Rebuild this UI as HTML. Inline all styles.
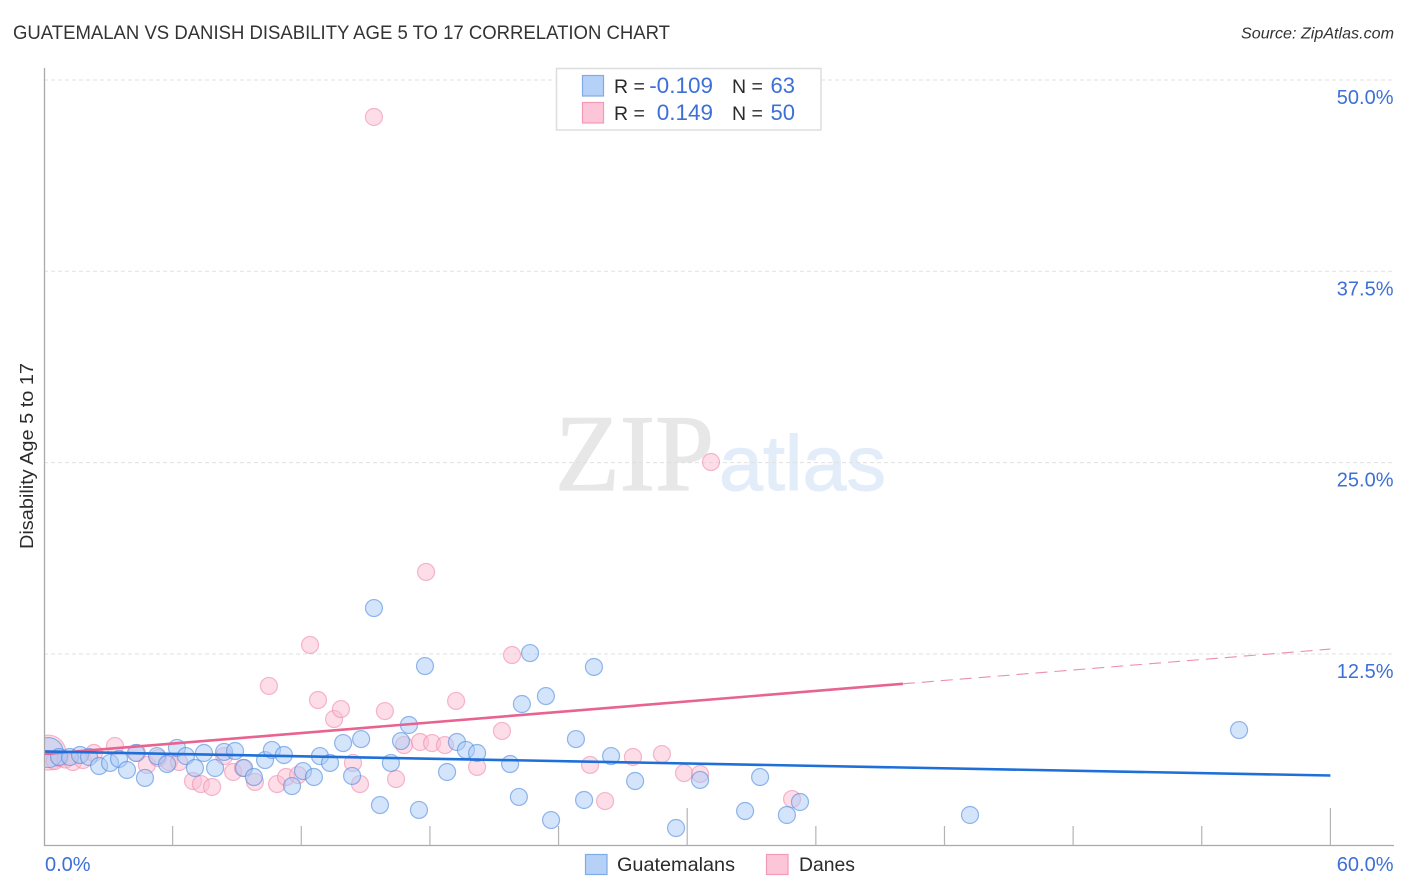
<!DOCTYPE html>
<html lang="en">
<head>
<meta charset="utf-8">
<title>Guatemalan vs Danish Disability Age 5 to 17 Correlation Chart</title>
<style>
html,body{margin:0;padding:0;background:#fff;}
body{width:1406px;height:892px;overflow:hidden;}
svg{display:block;font-family:"Liberation Sans",sans-serif;}
</style>
</head>
<body>
<svg id="chart" xmlns="http://www.w3.org/2000/svg" width="1406" height="892" viewBox="0 0 1406 892">
  <defs>
    <clipPath id="plot-clip"><rect x="44" y="60" width="1350" height="785.5"/></clipPath>
  </defs>
  <rect x="0" y="0" width="1406" height="892" fill="#ffffff"/>
  <text x="13" y="39" font-size="19" fill="#333333" textLength="657" lengthAdjust="spacingAndGlyphs">GUATEMALAN VS DANISH DISABILITY AGE 5 TO 17 CORRELATION CHART</text>
  <text x="1394" y="38.5" font-size="16" font-style="italic" fill="#333333" text-anchor="end" textLength="153" lengthAdjust="spacingAndGlyphs">Source: ZipAtlas.com</text>
  <text x="555" y="490" font-family="'Liberation Serif',serif" font-size="109" fill="#e7e7e7" stroke="#e7e7e7" stroke-width="1.2" textLength="159" lengthAdjust="spacingAndGlyphs">ZIP</text>
  <text x="719" y="490" font-size="78" fill="#e3edfa" stroke="#e3edfa" stroke-width="1" textLength="167" lengthAdjust="spacingAndGlyphs">atlas</text>
  <g id="grid"></g>
  <g id="points" clip-path="url(#plot-clip)"></g>
  <g id="trends"></g>
  <g id="axes"></g>
  <text transform="translate(33,456) rotate(-90)" font-size="18.5" fill="#2b2b2b" text-anchor="middle" textLength="186" lengthAdjust="spacingAndGlyphs">Disability Age 5 to 17</text>

  <g>
    <rect x="556.5" y="68.5" width="264.5" height="61.5" fill="#ffffff" stroke="#dddddd" stroke-width="1.5"/>
    <rect x="582.5" y="75.5" width="21" height="20.5" fill="#b5d1f7" stroke="#7fabe6" stroke-width="1.2"/>
    <text x="614" y="93" font-size="19.5" fill="#2b2b2b">R =</text>
    <text x="713" y="93" font-size="22.5" fill="#3d70d6" text-anchor="end">-0.109</text>
    <text x="732" y="93" font-size="19.5" fill="#2b2b2b">N =</text>
    <text x="795" y="93" font-size="22" fill="#3d70d6" text-anchor="end">63</text>
    <rect x="582.5" y="102.5" width="21" height="20.5" fill="#fdc6d8" stroke="#f29ab8" stroke-width="1.2"/>
    <text x="614" y="120" font-size="19.5" fill="#2b2b2b">R =</text>
    <text x="713" y="120" font-size="22.5" fill="#3d70d6" text-anchor="end">0.149</text>
    <text x="732" y="120" font-size="19.5" fill="#2b2b2b">N =</text>
    <text x="795" y="120" font-size="22" fill="#3d70d6" text-anchor="end">50</text>
  </g>

  <g>
    <rect x="585.5" y="854.5" width="21.5" height="20" fill="#b5d1f7" stroke="#7fabe6" stroke-width="1.2"/>
    <text x="617" y="871" font-size="19.5" fill="#2b2b2b" textLength="118" lengthAdjust="spacingAndGlyphs">Guatemalans</text>
    <rect x="766.5" y="854.5" width="21.5" height="20" fill="#fdc6d8" stroke="#f29ab8" stroke-width="1.2"/>
    <text x="799" y="871" font-size="19.5" fill="#2b2b2b" textLength="56" lengthAdjust="spacingAndGlyphs">Danes</text>
  </g>
</svg>
<script>
const xTickValues = [0, 6, 12, 18, 24, 30, 36, 42, 48, 54, 60];
const xTickLabels = ["0.0%", "", "", "", "", "", "", "", "", "", "60.0%"];
const yTickValues = [12.5, 25, 37.5, 50];
const yTickLabels = ["12.5%", "25.0%", "37.5%", "50.0%"];

const guatemalanX = [0.20,0.70,1.21,1.68,2.10,2.57,3.08,3.50,3.87,4.29,4.71,5.27,5.74,6.20,6.62,7.04,7.46,7.98,8.40,8.91,9.33,9.79,10.31,10.63,11.19,11.57,12.08,12.59,12.87,13.34,13.95,14.37,14.79,16.18,15.67,16.65,17.02,17.49,17.77,18.80,19.26,19.68,20.20,21.74,22.15,22.29,23.41,23.65,24.81,25.19,25.65,26.45,27.57,29.48,30.60,32.70,33.40,34.65,35.26,43.19,15.39,22.67,55.74];
const guatemalanY = [6.06,5.77,5.77,5.90,5.77,5.18,5.38,5.64,4.92,6.03,4.40,5.83,5.31,6.36,5.83,5.05,6.03,5.05,6.10,6.16,5.05,4.46,5.57,6.23,5.90,3.87,4.85,4.46,5.83,5.38,6.68,4.53,6.94,5.38,2.63,6.81,7.86,2.31,11.71,4.79,6.75,6.23,6.03,5.31,3.16,9.23,9.75,1.65,6.94,2.96,11.65,5.83,4.20,1.13,4.27,2.24,4.46,1.98,2.83,1.98,15.50,12.56,7.53];

const daneX = [0.20,0.50,0.75,1.00,1.35,1.82,2.33,3.31,4.34,4.80,5.32,5.83,6.30,6.95,7.32,7.84,8.40,8.82,9.28,9.84,10.49,10.87,11.29,11.85,12.78,13.53,13.85,14.41,14.74,15.90,16.42,16.79,17.54,18.10,18.70,19.22,20.20,21.36,25.47,26.17,27.47,28.82,29.85,30.60,34.89,15.39,31.11,17.82,12.41,21.83];
const daneY = [6.06,5.50,5.70,5.60,5.44,5.57,6.03,6.49,6.03,5.25,5.70,5.44,5.44,4.20,4.00,3.81,5.83,4.79,5.05,4.14,10.41,4.00,4.46,4.59,9.49,8.25,8.90,5.38,4.00,8.77,4.33,6.55,6.75,6.68,6.55,9.43,5.12,7.47,5.25,2.89,5.77,5.96,4.72,4.66,3.02,47.58,25.04,17.86,13.09,12.43];

const guatemalanTrendX = [0, 60];
const guatemalanTrendY = [6.13, 4.56];
const daneTrendX = [0, 40.06];
const daneTrendY = [5.96, 10.55];
const daneTrendExtensionX = [40.06, 60];
const daneTrendExtensionY = [10.55, 12.82];

const SVG_NS = "http://www.w3.org/2000/svg";
const X_ZERO = 44, X_SCALE = 21.44;
const Y_ZERO = 845.3, Y_SCALE = 15.307;
function xScale(v) { return X_ZERO + v * X_SCALE; }
function yScale(v) { return Y_ZERO - v * Y_SCALE; }

function make(tag, attrs, parent) {
  const el = document.createElementNS(SVG_NS, tag);
  Object.keys(attrs).forEach(function (k) { el.setAttribute(k, attrs[k]); });
  parent.appendChild(el);
  return el;
}

const gridGroup = document.getElementById("grid");
const axesGroup = document.getElementById("axes");
const pointsGroup = document.getElementById("points");
const trendsGroup = document.getElementById("trends");

yTickValues.forEach(function (v, i) {
  const line = make("line", { x1: 44, x2: 1394, y1: yScale(v), y2: yScale(v), stroke: "#e0e0e0", "stroke-width": 1, "stroke-dasharray": "4 3" }, gridGroup);
  
  
  const label = make("text", { x: 1393.5, y: yScale(v) + 24, "font-size": 20, fill: "#3d70d6", "text-anchor": "end" }, axesGroup);
  
  
  label.textContent = yTickLabels[i];
});

const yAxisLine = make("line", { x1: 44.5, x2: 44.5, y1: 68, y2: 846, stroke: "#a9a9a9", "stroke-width": 1.3 }, axesGroup);


const xAxisLine = make("line", { x1: 44, x2: 1394, y1: 845.5, y2: 845.5, stroke: "#a9a9a9", "stroke-width": 1.3 }, axesGroup);



xTickValues.forEach(function (v, i) {
  if (i > 0) {
    const tick = make("line", { x1: xScale(v), x2: xScale(v), y1: i % 5 === 0 ? 808 : 826, y2: 845.5, stroke: "#b4b4b4", "stroke-width": 1.2 }, axesGroup);
    
    
  }
  if (xTickLabels[i]) {
    const last = i === xTickValues.length - 1;
    const label = make("text", { x: last ? 1393.5 : 45, y: 871, "font-size": 20, fill: "#3d70d6", "text-anchor": last ? "end" : "start" }, axesGroup);
    
    
    label.textContent = xTickLabels[i];
  }
});

function drawSeries(xs, ys, fill, stroke, largeRadius, name) {
  xs.forEach(function (v, i) {
    const c = make("circle", {
      cx: xScale(v), cy: yScale(ys[i]),
      r: i === 0 ? largeRadius : 8.5,
      fill: fill, "fill-opacity": 0.5,
      stroke: stroke, "stroke-opacity": 0.6, "stroke-width": 1.2
    }, pointsGroup);
    
    
  });
}
drawSeries(daneX, daneY, "#fbbdd2", "#ee8aab", 17.5, "dane-point");
drawSeries(guatemalanX, guatemalanY, "#a9c9f5", "#4f8be0", 15, "guatemalan-point");

const daneTrend = make("line", { x1: xScale(daneTrendX[0]), y1: yScale(daneTrendY[0]), x2: xScale(daneTrendX[1]), y2: yScale(daneTrendY[1]), stroke: "#e8638f", "stroke-width": 2.6 }, trendsGroup);


const daneExt = make("line", { x1: xScale(daneTrendExtensionX[0]), y1: yScale(daneTrendExtensionY[0]), x2: xScale(daneTrendExtensionX[1]), y2: yScale(daneTrendExtensionY[1]), stroke: "#ec8fae", "stroke-width": 1.1, "stroke-dasharray": "12 7" }, trendsGroup);


const guatemalanTrend = make("line", { x1: xScale(guatemalanTrendX[0]), y1: yScale(guatemalanTrendY[0]), x2: xScale(guatemalanTrendX[1]), y2: yScale(guatemalanTrendY[1]), stroke: "#1f6fd8", "stroke-width": 2.6 }, trendsGroup);


</script>
</body>
</html>
